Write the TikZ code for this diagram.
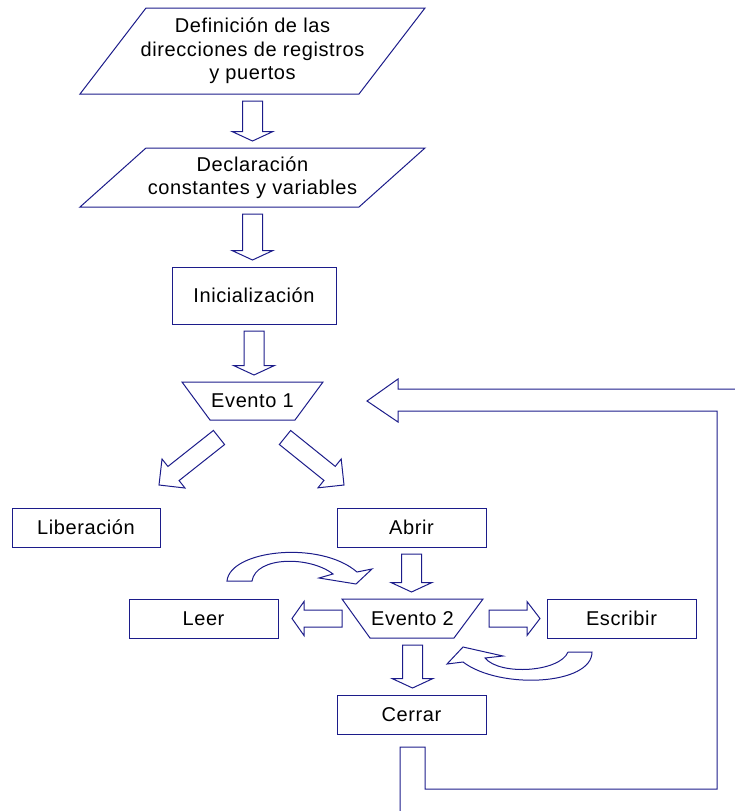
\documentclass[tikz,border=0pt]{standalone}
\usepackage{fontspec}
\setmainfont{Liberation Sans}[LetterSpace=3]
\usepackage{tikz}
\usetikzlibrary{calc}

% bloque de flecha: cola, punta, medio ancho cuerpo, medio ancho cabeza, largo cabeza
\newcommand{\bloque}[5]{%
  \coordinate (bq) at ($(#2)!#5!(#1)$);
  \draw[flujo] ($(#1)!#3!90:(#2)$) -- ($(bq)!#3!90:(#2)$) -- ($(bq)!#4!90:(#2)$)
    -- (#2) -- ($(bq)!#4!-90:(#2)$) -- ($(bq)!#3!-90:(#2)$) -- ($(#1)!#3!-90:(#2)$) -- cycle;}
% flecha hacia abajo entre dos nodos
\newcommand{\bajar}[2]{%
  \coordinate (ba) at ($(#1.south)+(0,7)$);
  \coordinate (bb) at ($(ba |- #2.north)+(0,-7)$);
  \bloque{ba}{bb}{10pt}{20.5pt}{9.5pt}}

\begin{document}
\begin{tikzpicture}[x=1pt,y=-1pt,line join=miter,
    linea/.style={line width=1pt, azul},
    flujo/.style={line width=1pt, azul},
    texto/.style={inner sep=0, outer sep=0, align=center, text=black,
      font=\fontsize{20pt}{23.5pt}\selectfont},
    marco/.style={texto, minimum width=#1},
    caja/.style={texto, draw=azul, line width=1pt, minimum width=149, minimum height=39}]
  \definecolor{azul}{RGB}{28, 28, 138}
  \useasboundingbox (0,0) rectangle (735,811);

  % nodos
  \node[marco=345, minimum height=86] (def) at (252.5,51) {Definición de las\\direcciones de registros\\y puertos};
  \node[marco=345, minimum height=59] (decl) at (252.5,177.5) {Declaración\\constantes y variables};
  \node[caja, minimum width=164, minimum height=57] (ini) at (254,295.5) {Inicialización};
  \node[marco=141, minimum height=38] (ev1) at (252.5,401) {Evento 1};
  \node[caja, minimum width=148] (lib) at (86,527.5) {Liberación};
  \node[caja] (abrir) at (411.5,527.5) {Abrir};
  \node[marco=141, minimum height=39] (ev2) at (412.5,618.5) {Evento 2};
  \node[caja] (leer) at (203.5,618.5) {Leer};
  \node[caja] (escr) at (621.5,618.5) {Escribir};
  \node[caja] (cerrar) at (411.5,714.5) {Cerrar};

  % contornos
  \draw[linea] ([xshift=66pt]def.north west) -- (def.north east) -- ([xshift=-66pt]def.south east) -- (def.south west) -- cycle;
  \draw[linea] ([xshift=66pt]decl.north west) -- (decl.north east) -- ([xshift=-66pt]decl.south east) -- (decl.south west) -- cycle;
  \draw[linea] (ev1.north west) -- (ev1.north east) -- ([xshift=-28pt]ev1.south east) -- ([xshift=28pt]ev1.south west) -- cycle;
  \draw[linea] (ev2.north west) -- (ev2.north east) -- ([xshift=-29pt]ev2.south east) -- ([xshift=28pt]ev2.south west) -- cycle;

  % flechas
  \bajar{def}{decl}
  \bajar{decl}{ini}
  \bajar{ini}{ev1}
  \bajar{abrir}{ev2}
  \bajar{ev2}{cerrar}
  \coordinate (c1) at ($(ev1.south)+(-33.5,17.5)$);
  \coordinate (p1) at ($(ev1.south)+(-93.5,65)$);
  \coordinate (c2) at ($(ev1.south)+(32.5,17.5)$);
  \coordinate (p2) at ($(ev1.south)+(91.5,65)$);
  \bloque{c1}{p1}{9pt}{18.5pt}{18.5pt}
  \bloque{c2}{p2}{9pt}{18.5pt}{18.5pt}
  \coordinate (c3) at (ev2.north west |- ev2.center);
  \coordinate (p3) at ($(leer.east)+(14,0)$);
  \bloque{c3}{p3}{8.5pt}{17pt}{12pt}
  \coordinate (c4) at ($(ev2.north east |- ev2.center)+(6,0)$);
  \coordinate (p4) at ($(escr.west)+(-7,0)$);
  \bloque{c4}{p4}{8.5pt}{17pt}{13pt}

  % retorno
  \draw[flujo] (400,811) -- ($(cerrar.south)+(-11.5,13)$) -- ($(cerrar.south)+(13.5,13)$) -- (425,789)
    -- (717,789) -- (717,411) -- (398,411) -- (398,422) -- (367,401) -- (398,379) -- (398,389) -- (735,389);

  % flechas curvas
  \draw[flujo] (227,581) .. controls (230,550) and (320,540) .. (357,572) -- (372,569) -- (356,584)
    -- (319,578) -- (333,574) .. controls (310,556) and (256,556) .. (252,581) -- cycle;
  \draw[flujo] (568,652) -- (592,652) .. controls (592,685) and (500,690) .. (463,662) -- (447,664)
    -- (463,647) -- (503,656) -- (485,658) .. controls (500,676) and (560,672) .. (568,652);
\end{tikzpicture}
\end{document}
